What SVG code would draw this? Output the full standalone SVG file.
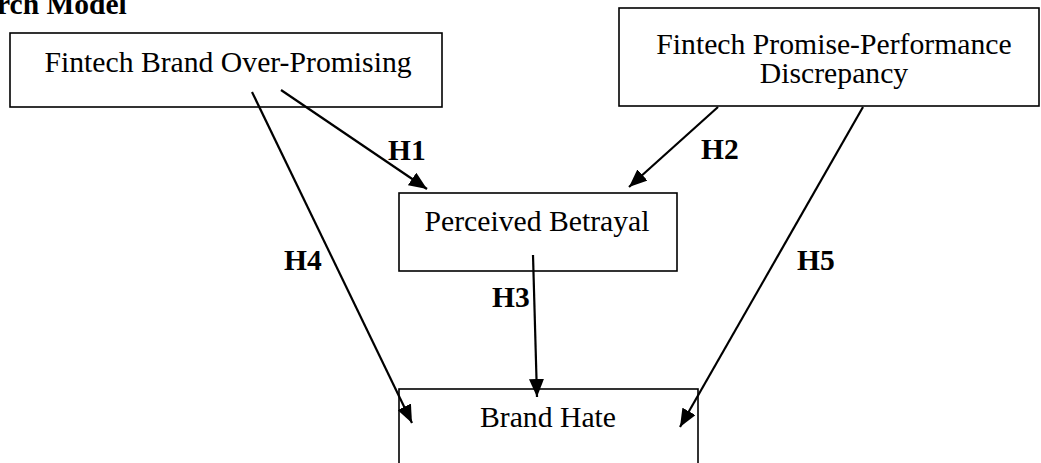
<svg xmlns="http://www.w3.org/2000/svg" width="1041" height="463" viewBox="0 0 1041 463">
<style>
.box{fill:#fff;stroke:#000;stroke-width:1.6}
.t{font-family:"Liberation Serif","Times New Roman",serif;font-size:29.7px;fill:#000}
.lbl{font-family:"Liberation Serif","Times New Roman",serif;font-size:29.5px;font-weight:bold;fill:#000}
.c{stroke:#000;stroke-width:2.2;fill:none;marker-end:url(#ah)}
</style>
<defs>
<marker id="ah" markerUnits="userSpaceOnUse" markerWidth="19" markerHeight="15" refX="18" refY="7.5" orient="auto">
<path d="M0,0 L18,7.5 L0,15 z" fill="#000"/>
</marker>
</defs>
<rect width="1041" height="463" fill="#fff"/>
<text class="lbl" x="-3" y="14" font-size="30">rch Model</text>
<g id="n1">
<rect class="box" x="10" y="33" width="432" height="74"/>
<text class="t" x="228" y="72" text-anchor="middle">Fintech Brand Over-Promising</text>
</g>
<g id="n2">
<rect class="box" x="619" y="8" width="420" height="98"/>
<text class="t" x="834" y="54" text-anchor="middle">Fintech Promise-Performance</text>
<text class="t" x="834" y="83" text-anchor="middle">Discrepancy</text>
</g>
<g id="n3">
<rect class="box" x="399" y="193" width="278" height="78"/>
<text class="t" x="537" y="231" text-anchor="middle">Perceived Betrayal</text>
</g>
<g id="n4">
<rect class="box" x="399" y="389" width="299" height="90"/>
<text class="t" x="548" y="427" text-anchor="middle">Brand Hate</text>
</g>
<g id="connectors">
<line class="c" x1="281" y1="90" x2="427" y2="189"/>
<line class="c" x1="718" y1="107" x2="629" y2="187"/>
<line class="c" x1="533" y1="255" x2="537" y2="397"/>
<line class="c" x1="252" y1="92" x2="412" y2="423"/>
<line class="c" x1="863" y1="107" x2="680" y2="427"/>
<text class="lbl" x="388" y="160">H1</text>
<text class="lbl" x="701" y="159">H2</text>
<text class="lbl" x="492" y="307">H3</text>
<text class="lbl" x="284" y="270">H4</text>
<text class="lbl" x="797" y="270">H5</text>
</g>
</svg>
